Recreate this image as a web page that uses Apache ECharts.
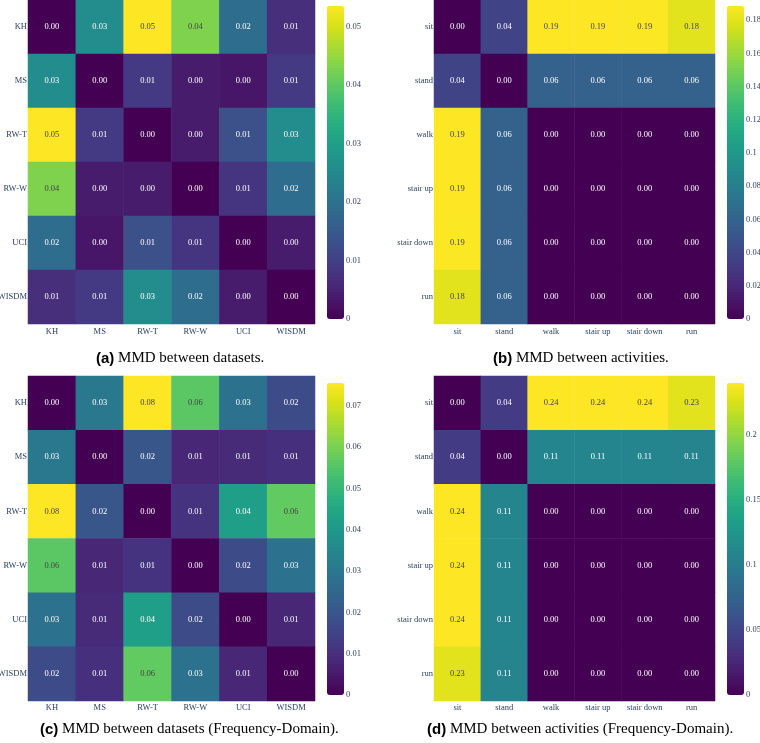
<!DOCTYPE html>
<html><head><meta charset="utf-8">
<script src="https://cdn.jsdelivr.net/npm/echarts@6/dist/echarts.min.js"></script>
<style>html,body{margin:0;padding:0;background:#fff}#c{width:760px;height:743px}</style>
</head><body><div id="c"></div>
<script>
// ---- data ----
const datasets = ['KH', 'MS', 'RW-T', 'RW-W', 'UCI', 'WISDM'];
const activities = ['sit', 'stand', 'walk', 'stair up', 'stair down', 'run'];

// (a) MMD between datasets (rows top->bottom, columns left->right)
const mmdDatasets = [
  [0.000, 0.0256, 0.0535, 0.043, 0.019, 0.007],
  [0.0256, 0.000, 0.009, 0.004, 0.003, 0.009],
  [0.0535, 0.009, 0.000, 0.004, 0.013, 0.0256],
  [0.043, 0.004, 0.004, 0.000, 0.008, 0.019],
  [0.019, 0.003, 0.013, 0.008, 0.000, 0.004],
  [0.007, 0.009, 0.0256, 0.019, 0.004, 0.000]
];
// (b) MMD between activities
const mmdActivities = [
  [0.000, 0.038, 0.1885, 0.1885, 0.188, 0.180],
  [0.038, 0.000, 0.058, 0.058, 0.058, 0.058],
  [0.1885, 0.058, 0.000, 0.000, 0.000, 0.000],
  [0.1885, 0.058, 0.000, 0.000, 0.000, 0.000],
  [0.188, 0.058, 0.000, 0.000, 0.000, 0.000],
  [0.180, 0.058, 0.000, 0.000, 0.000, 0.000]
];
// (c) MMD between datasets (Frequency-Domain)
const mmdDatasetsFreq = [
  [0.000, 0.030, 0.0755, 0.056, 0.028, 0.017],
  [0.030, 0.000, 0.020, 0.008, 0.009, 0.010],
  [0.0755, 0.020, 0.000, 0.011, 0.042, 0.057],
  [0.056, 0.008, 0.011, 0.000, 0.017, 0.028],
  [0.028, 0.009, 0.042, 0.017, 0.000, 0.008],
  [0.017, 0.010, 0.057, 0.028, 0.008, 0.000]
];
// (d) MMD between activities (Frequency-Domain)
const mmdActivitiesFreq = [
  [0.000, 0.041, 0.240, 0.240, 0.240, 0.229],
  [0.041, 0.000, 0.108, 0.108, 0.108, 0.107],
  [0.240, 0.108, 0.000, 0.000, 0.000, 0.000],
  [0.240, 0.108, 0.000, 0.000, 0.000, 0.000],
  [0.240, 0.108, 0.000, 0.000, 0.000, 0.000],
  [0.229, 0.107, 0.000, 0.000, 0.000, 0.000]
];
const colorbarIntervals = [0.01, 0.02, 0.01, 0.05];
const captionTags = ['(a)', '(b)', '(c)', '(d)'];
const captionTexts = [
  'MMD between datasets.',
  'MMD between activities.',
  'MMD between datasets (Frequency-Domain).',
  'MMD between activities (Frequency-Domain).'
];

// ---- style / layout ----
const viridis = ['#440154','#48186a','#472d7b','#424086','#3b528b','#33638d','#2c728e','#26828e',
  '#21918c','#1fa088','#28ae80','#3fbc73','#5ec962','#84d44b','#addc30','#d8e219','#fde725'];
const serif = 'Liberation Serif';
const axisColor = '#2a3f5f';
const layouts = [
  {grid: {left: 28, top: 0, width: 287, height: 324}, bar: {left: 327, top: 6, width: 17, height: 313}, cap: {left: 96, top: 351}, xMargin: 3},
  {grid: {left: 434, top: 0, width: 281, height: 324}, bar: {left: 727, top: 6, width: 17, height: 313}, cap: {left: 493, top: 351}, xMargin: 3},
  {grid: {left: 28, top: 376, width: 287, height: 325}, bar: {left: 327, top: 383, width: 17, height: 312}, cap: {left: 40, top: 722}, xMargin: 2},
  {grid: {left: 434, top: 376, width: 281, height: 325}, bar: {left: 727, top: 383, width: 17, height: 312}, cap: {left: 427, top: 722}, xMargin: 2}
];
const panelData = [
  {cats: datasets, m: mmdDatasets},
  {cats: activities, m: mmdActivities},
  {cats: datasets, m: mmdDatasetsFreq},
  {cats: activities, m: mmdActivitiesFreq}
];

const option = {
  backgroundColor: '#fff',
  animation: false,
  grid: [], xAxis: [], yAxis: [], series: [], visualMap: [], title: []
};

panelData.forEach((p, i) => {
  const L = layouts[i];
  const maxV = Math.max(...p.m.map(r => Math.max(...r)));
  const data = [];
  p.m.forEach((row, y) => row.forEach((v, x) => {
    const item = {value: [x, y, v]};
    if (v / maxV > 0.65) item.label = {color: '#444'};
    data.push(item);
  }));
  // heatmap grid
  option.grid.push(Object.assign({containLabel: false, outerBoundsMode: 'none'}, L.grid));
  option.xAxis.push({
    type: 'category', gridIndex: 2 * i, data: p.cats, position: 'bottom',
    axisLine: {show: false}, axisTick: {show: false}, splitLine: {show: false},
    axisLabel: {fontFamily: serif, fontSize: 8.5, color: axisColor, margin: L.xMargin}
  });
  option.yAxis.push({
    type: 'category', gridIndex: 2 * i, data: p.cats, inverse: true,
    axisLine: {show: false}, axisTick: {show: false}, splitLine: {show: false},
    axisLabel: {fontFamily: serif, fontSize: 8.5, color: axisColor, margin: 1}
  });
  // colorbar tick grid
  option.grid.push(Object.assign({containLabel: false, outerBoundsMode: 'none'}, L.bar));
  option.xAxis.push({type: 'category', gridIndex: 2 * i + 1, data: [''], show: false});
  option.yAxis.push({
    type: 'value', gridIndex: 2 * i + 1, min: 0, max: maxV, interval: colorbarIntervals[i],
    position: 'right', axisLine: {show: false}, axisTick: {show: false}, splitLine: {show: false},
    axisLabel: {fontFamily: serif, fontSize: 8.5, color: axisColor, margin: 2, showMaxLabel: false}
  });
  option.series.push({
    type: 'heatmap', xAxisIndex: 2 * i, yAxisIndex: 2 * i, data: data,
    label: {show: true, fontFamily: serif, fontSize: 8.5, color: '#fff',
      formatter: prm => prm.value[2].toFixed(2)},
    emphasis: {disabled: true},
    itemStyle: {borderWidth: 0}
  });
  option.visualMap.push({
    type: 'continuous', seriesIndex: i, min: 0, max: maxV, calculable: false,
    orient: 'vertical', left: L.bar.left, top: L.bar.top, itemWidth: L.bar.width, itemHeight: L.bar.height,
    padding: 0, text: null, hoverLink: false, inRange: {color: viridis}
  });
  option.title.push({
    left: L.cap.left, top: L.cap.top, padding: 0,
    text: '{b|' + captionTags[i] + '} {n|' + captionTexts[i] + '}',
    textStyle: {fontFamily: serif, fontSize: 15, fontWeight: 'normal', color: '#000',
      rich: {
        b: {fontFamily: 'Liberation Sans', fontWeight: 'bold', fontSize: 15, color: '#000'},
        n: {fontFamily: serif, fontSize: 15, color: '#000'}
      }}
  });
});

const chart = echarts.init(document.getElementById('c'), null, {renderer: 'canvas'});
chart.setOption(option);
</script>
</body></html>
